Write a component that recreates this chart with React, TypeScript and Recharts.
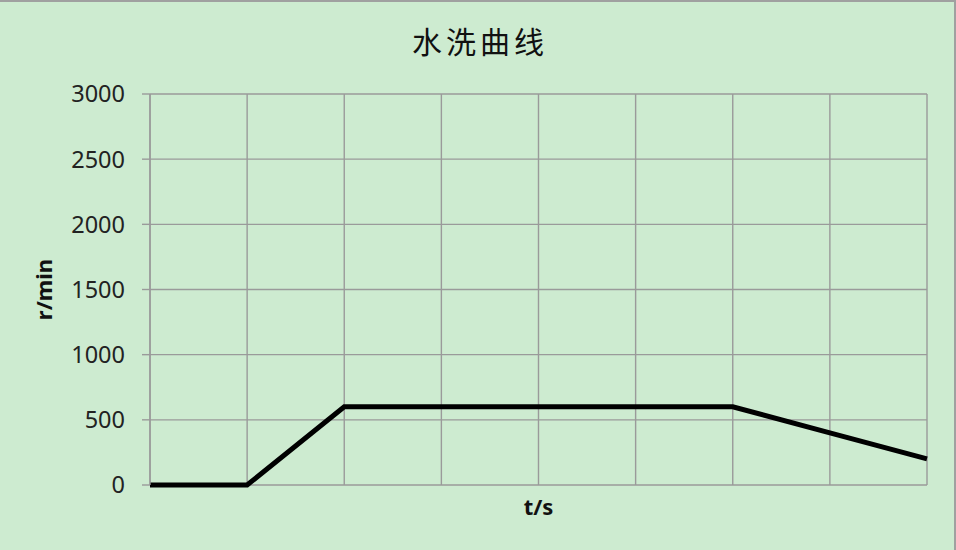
import { LineChart, Line, XAxis, YAxis, CartesianGrid, Label } from 'recharts';

const times = [0, 1, 2, 3, 4, 5, 6, 7, 8];
const speeds = [0, 0, 600, 600, 600, 600, 600, 400, 200];
const yTicks = [0, 500, 1000, 1500, 2000, 2500, 3000];

const data = times.map((t, i) => ({ t, rpm: speeds[i] }));

const tickFont = { fontFamily: '"Noto Sans", sans-serif', fontSize: 23.5, fill: '#222' };
const gridStroke = { stroke: '#9a9a9a', strokeWidth: 1.4 };

export default function App() {
  return (
    <div
      style={{
        position: 'absolute',
        left: 0,
        top: 0,
        width: 956,
        height: 550,
        boxSizing: 'border-box',
        background: '#cdebd0',
        borderTop: '2px solid #a0a0a0',
        borderRight: '2px solid #a0a0a0',
      }}
    >
      <div
        style={{
          position: 'absolute',
          left: 0,
          top: 18,
          width: 956,
          textAlign: 'center',
          fontFamily: '"Noto Sans CJK SC", sans-serif',
          fontSize: 30,
          letterSpacing: 4,
          color: '#111',
          lineHeight: '40px',
          paddingLeft: 2,
        }}
      >
        水洗曲线
      </div>
      <div
        style={{
          position: 'absolute',
          left: 150,
          top: 487,
          width: 777,
          textAlign: 'center',
          fontFamily: '"Noto Sans", sans-serif',
          fontSize: 22,
          fontWeight: 'bold',
          color: '#111',
          lineHeight: '34px',
        }}
      >
        t/s
      </div>
      <div style={{ position: 'absolute', left: 0, top: -2 }}>
        <LineChart
          width={956}
          height={550}
          data={data}
          margin={{ top: 94, right: 29, bottom: 65, left: 0 }}
        >
          <CartesianGrid {...gridStroke} />
          <XAxis
            dataKey="t"
            type="number"
            domain={[0, 8]}
            ticks={times}
            interval={0}
            height={0}
            tick={() => <g />}
            tickLine={false}
            axisLine={gridStroke}
          />
          <YAxis
            width={150}
            domain={[0, 3000]}
            ticks={yTicks}
            tickSize={8}
            tickMargin={17}
            tick={tickFont}
            tickLine={gridStroke}
            axisLine={gridStroke}
          >
            <Label
              value="r/min"
              angle={-90}
              position="insideLeft"
              offset={44}
              style={{ fontFamily: '"Noto Sans", sans-serif', fontSize: 22, fontWeight: 'bold', fill: '#111', textAnchor: 'middle' }}
            />
          </YAxis>
          <Line
            dataKey="rpm"
            stroke="#000"
            strokeWidth={5}
            dot={false}
            isAnimationActive={false}
          />
        </LineChart>
      </div>
    </div>
  );
}
